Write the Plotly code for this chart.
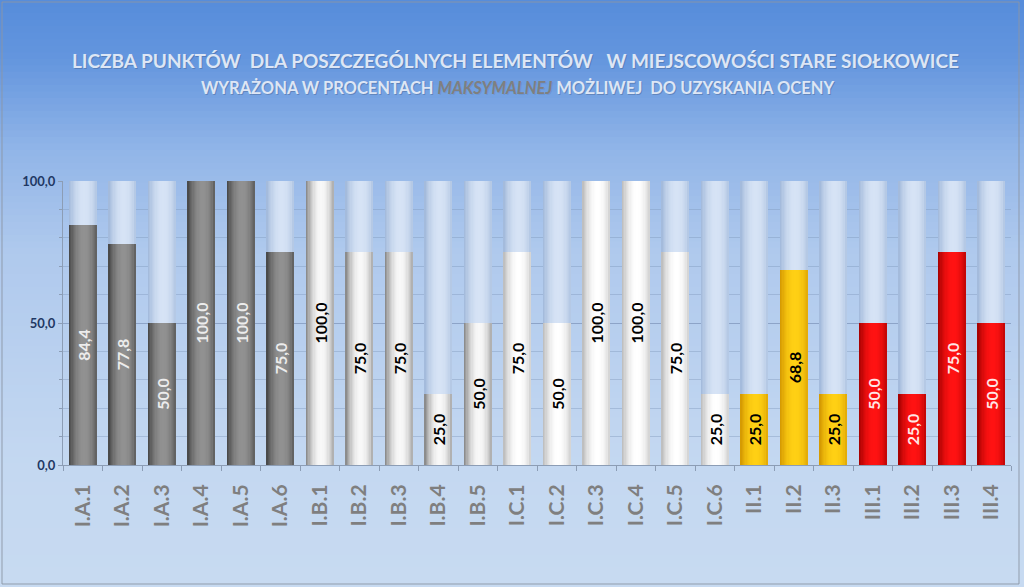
import plotly.graph_objects as go

# ---------------- data ----------------
categories = ["I.A.1", "I.A.2", "I.A.3", "I.A.4", "I.A.5", "I.A.6",
              "I.B.1", "I.B.2", "I.B.3", "I.B.4", "I.B.5",
              "I.C.1", "I.C.2", "I.C.3", "I.C.4", "I.C.5", "I.C.6",
              "II.1", "II.2", "II.3",
              "III.1", "III.2", "III.3", "III.4"]
values = [84.4, 77.8, 50.0, 100.0, 100.0, 75.0,
          100.0, 75.0, 75.0, 25.0, 50.0,
          75.0, 50.0, 100.0, 100.0, 75.0, 25.0,
          25.0, 68.8, 25.0,
          50.0, 25.0, 75.0, 50.0]
groups = ["I.A"] * 6 + ["I.B"] * 5 + ["I.C"] * 6 + ["II"] * 3 + ["III"] * 4
max_values = [100.0] * len(categories)
y_tick_values = [0, 50, 100]

# ---------------- styles ----------------
W, H = 1024, 587
L, R, T, B = 63, 13, 181, 122
PW, PH = W - L - R, H - T - B

group_colors = {  # (edge colour, highlight colour)
    "I.A": ((68, 68, 68), (145, 145, 145)),
    "I.B": ((130, 130, 130), (248, 248, 248)),
    "I.C": ((185, 185, 185), (255, 255, 255)),
    "II": ((210, 150, 0), (255, 208, 20)),
    "III": ((160, 0, 0), (255, 18, 18)),
}
bg_colors = ((160, 184, 218), (214, 227, 245))
text_colors = {"I.A": "#ececec", "I.B": "#000000", "I.C": "#000000",
               "II": "#000000", "III": "#ffe6e6"}


def mix(c1, c2, w):
    return "rgb(%d,%d,%d)" % tuple(round(a + (b - a) * w) for a, b in zip(c1, c2))


def weight(t):
    w = 1 - ((t - 0.55) / 0.55) ** 2
    return max(0.0, min(1.0, w))


BAR_W = 0.7
N = 22
step = BAR_W / N

fig = go.Figure()

# background (maximum) bars, cylinder shading via overlaid strips
for i in range(N):
    t = (i + 0.5) / N
    fig.add_trace(go.Bar(
        x=categories, y=max_values,
        offset=-BAR_W / 2 + i * step, width=BAR_W - i * step,
        marker=dict(color=mix(bg_colors[0], bg_colors[1], weight(t)), line=dict(width=0)),
        hoverinfo="skip", showlegend=False))

# value bars
for i in range(N):
    t = (i + 0.5) / N
    cols = [mix(group_colors[g][0], group_colors[g][1], weight(t)) for g in groups]
    fig.add_trace(go.Bar(
        x=categories, y=values,
        offset=-BAR_W / 2 + i * step, width=BAR_W - i * step,
        marker=dict(color=cols, line=dict(width=0)),
        hoverinfo="skip", showlegend=False))

# labels
labels = [f"{v:.1f}".replace(".", ",") for v in values]
fig.add_trace(go.Bar(
    x=categories, y=values, width=BAR_W,
    marker=dict(color="rgba(0,0,0,0)", line=dict(width=0)),
    text=labels, textposition="inside", insidetextanchor="middle", textangle=-90,
    textfont=dict(family="Lato", size=16, weight="bold",
                  color=[text_colors[g] for g in groups]),
    constraintext="none", cliponaxis=False,
    hoverinfo="skip", showlegend=False))

# ---------------- page gradient ----------------
stops = [(0, (86, 141, 219)), (60, (100, 150, 222)), (150, (145, 181, 232)),
         (250, (175, 201, 237)), (465, (196, 216, 241)), (587, (199, 218, 241))]


def grad(py):
    for (p0, c0), (p1, c1) in zip(stops, stops[1:]):
        if p0 <= py <= p1:
            w = (py - p0) / (p1 - p0)
            return mix(c0, c1, w)
    return mix(stops[-1][1], stops[-1][1], 0)


def px2x(px):
    return (px - L) / PW


def py2y(py):
    return (H - B - py) / PH


shapes = []
NS = 90
for k in range(NS):
    py = k * H / NS
    shapes.append(dict(type="rect", xref="paper", yref="paper", layer="below",
                       x0=px2x(0), x1=px2x(W), y0=py2y(H), y1=py2y(py),
                       fillcolor=grad(py + H / NS / 2), line=dict(width=0)))
shapes.append(dict(type="rect", xref="paper", yref="paper", layer="above",
                   x0=px2x(2), x1=px2x(W - 5), y0=py2y(H - 3), y1=py2y(2),
                   line=dict(color="rgba(140,150,165,0.9)", width=1)))

title1 = "LICZBA PUNKTÓW  DLA POSZCZEGÓLNYCH ELEMENTÓW   W MIEJSCOWOŚCI STARE SIOŁKOWICE"
title2 = ("WYRAŻONA W PROCENTACH <i><span style='color:#7f7f7f'>MAKSYMALNEJ</span></i>"
          " MOŻLIWEJ  DO UZYSKANIA OCENY")

annotations = []
for dx, dy, col in [(1, -1, "rgba(60,80,120,0.35)"), (0, 0, "#dde6f5")]:
    annotations.append(dict(text="<b>" + title1 + "</b>", xref="paper", yref="paper",
                            x=px2x(515) + dx / PW, y=py2y(60) + dy / PH,
                            showarrow=False, xanchor="center", yanchor="middle",
                            font=dict(family="Lato", size=19, color=col)))
    annotations.append(dict(text="<b>" + (title2 if dx == 0 else title2.replace("#7f7f7f", col)) + "</b>",
                            xref="paper", yref="paper",
                            x=px2x(517) + dx / PW, y=py2y(88) + dy / PH,
                            showarrow=False, xanchor="center", yanchor="middle",
                            font=dict(family="Lato", size=16.5, color=col)))

fig.update_layout(
    width=W, height=H,
    margin=dict(l=L, r=R, t=T, b=B, pad=0),
    barmode="overlay",
    bargap=0,
    paper_bgcolor="#c6d9f1",
    plot_bgcolor="rgba(0,0,0,0)",
    separators=", ",
    shapes=shapes,
    annotations=annotations,
    showlegend=False,
    xaxis=dict(
        type="category", range=[-0.5, len(categories) - 0.5],
        tickangle=-90, tickson="boundaries", ticks="outside", ticklen=5,
        tickcolor="#8c9db5", showline=True, linecolor="#8c9db5", linewidth=1,
        showgrid=False, ticklabelstandoff=10,
        tickfont=dict(family="Lato", size=21, color="#7f7f7f", weight="bold"),
        fixedrange=True),
    yaxis=dict(
        range=[0, 100], tickvals=y_tick_values,
        ticktext=[f"{v:.1f}".replace(".", ",") for v in y_tick_values],
        ticks="outside", ticklen=4, tickcolor="#8c9db5",
        showline=True, linecolor="#8c9db5", linewidth=1,
        showgrid=True, gridcolor="rgba(125,150,185,0.55)", gridwidth=1,
        minor=dict(dtick=10, showgrid=True, gridcolor="rgba(125,150,185,0.4)",
                   ticks="outside", ticklen=3, tickcolor="#8c9db5"),
        zeroline=False,
        tickfont=dict(family="Lato", size=13, color="#1f3864", weight="bold"),
        fixedrange=True),
)

fig.write_html("out.html", config={"displayModeBar": False})
